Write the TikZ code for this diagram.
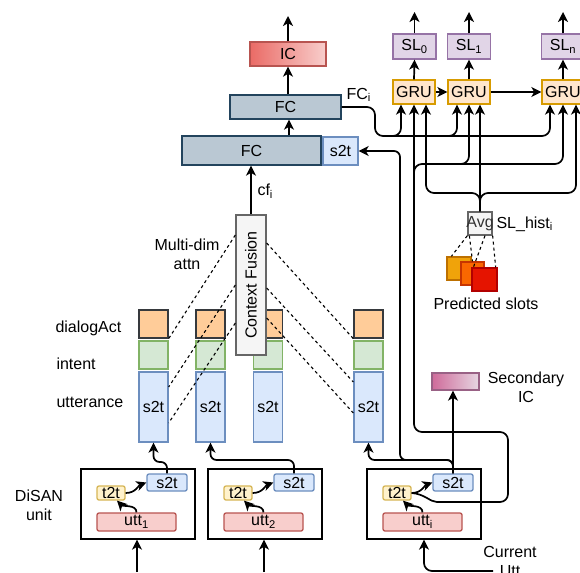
\documentclass[tikz,border=0pt]{standalone}
\usepackage{fontspec}
\setmainfont{Liberation Sans}
\usetikzlibrary{arrows.meta,calc}

\definecolor{fcfill}{HTML}{BAC8D3}
\definecolor{fcdraw}{HTML}{23445D}
\definecolor{icleft}{HTML}{EA6B66}
\definecolor{icright}{HTML}{F8CECC}
\definecolor{icdraw}{HTML}{B85450}
\definecolor{dafill}{HTML}{FFCC99}
\definecolor{dadraw}{HTML}{36393D}
\definecolor{infill}{HTML}{D5E8D4}
\definecolor{indraw}{HTML}{82B366}
\definecolor{bluefill}{HTML}{DAE8FC}
\definecolor{bluedraw}{HTML}{6C8EBF}
\definecolor{greyfill}{HTML}{F5F5F5}
\definecolor{greydraw}{HTML}{666666}
\definecolor{grufill}{HTML}{FFE6CC}
\definecolor{grudraw}{HTML}{D79B00}
\definecolor{slfill}{HTML}{E1D5E7}
\definecolor{sldraw}{HTML}{9673A6}
\definecolor{yfill}{HTML}{FFF2CC}
\definecolor{ydraw}{HTML}{D6B656}
\definecolor{rfill}{HTML}{F8CECC}
\definecolor{rdraw}{HTML}{B85450}
\definecolor{sqAf}{HTML}{F0A30A}
\definecolor{sqAd}{HTML}{BD7000}
\definecolor{sqBf}{HTML}{FA6800}
\definecolor{sqBd}{HTML}{C73500}
\definecolor{sqCf}{HTML}{E51400}
\definecolor{sqCd}{HTML}{B20000}
\definecolor{secleft}{HTML}{CF6B9A}
\definecolor{secright}{HTML}{E6D6E2}
\definecolor{secdraw}{HTML}{996185}
\definecolor{avgtext}{HTML}{333333}

\begin{document}
\begin{tikzpicture}[x=1pt,y=-1pt,
  font=\fontsize{16}{19}\selectfont,
  wh/.style 2 args={minimum width=#1pt,minimum height=#2pt},
  box/.style={draw,line width=1.3pt,inner sep=0pt,anchor=center},
  fcbox/.style={box,fill=fcfill,draw=fcdraw},
  icbox/.style={box,left color=icleft,right color=icright,draw=icdraw},
  dabox/.style={box,fill=dafill,draw=dadraw},
  inbox/.style={box,fill=infill,draw=indraw},
  bluebox/.style={box,fill=bluefill,draw=bluedraw},
  rbluebox/.style={bluebox,rounded corners=2pt},
  greybox/.style={box,fill=greyfill,draw=greydraw},
  grubox/.style={box,fill=grufill,draw=grudraw},
  slbox/.style={box,fill=slfill,draw=sldraw},
  t2tbox/.style={box,fill=yfill,draw=ydraw,rounded corners=2pt},
  uttbox/.style={box,fill=rfill,draw=rdraw,rounded corners=2pt},
  unitbox/.style={box,fill=white,draw=black},
  secbox/.style={box,left color=secleft,right color=secright,draw=secdraw},
  arr/.style={-{Stealth[length=10pt,width=10pt,inset=2.8pt]},line width=1.7pt,rounded corners=8pt},
  wire/.style={line width=1.7pt,rounded corners=8pt},
  attn/.style={dash pattern=on 3pt off 3pt,line width=1.1pt},
]
\useasboundingbox (0,0) rectangle (580,572);

% ---- intent classification head ----
\node[fcbox,wh={139}{29}] (FCb) at (251.5,150.5) {FC};
\node[fcbox,wh={111}{24}] (FCt) at (285.5,107) {FC};
\node[icbox,wh={76}{24}] (IC) at (288,54) {IC};
\node[bluebox,wh={35}{28}] (s2tFC) at (340.5,151) {s2t};
\coordinate (ICout) at (288,16);
\coordinate (fcx) at (289,0);

% ---- context columns ----
\foreach \n/\x in {1/153.5,2/210.5,3/268,4/368.5}{
  \node[dabox,wh={29}{28}] (d\n) at (\x,324) {};
  \node[inbox,wh={29}{28}] (i\n) at (\x,355) {};
  \node[bluebox,wh={29}{70}] (u\n) at (\x,407) {s2t};
}
\node[anchor=west] (lblDA) at (52,328) {dialogAct};
\node[anchor=west] (lblIN) at (53,364) {intent};
\node[anchor=west] (lblUT) at (53,402) {utterance};

% ---- context fusion ----
\node[greybox,wh={30}{140}] (CF) at (251,285) {};
\node[rotate=90] (CFtxt) at (CF.center) {Context Fusion};
\node[align=center] (mda) at (187,254) {Multi-dim\\attn};
\node[anchor=west] (cflbl) at (254,191) {cf\textsubscript{i}};

% ---- slot labelling GRUs ----
\node[grubox,wh={42}{24}] (g1) at (414,92) {GRU};
\node[grubox,wh={42}{24}] (g2) at (469,92) {GRU};
\node[grubox,wh={42}{24}] (gn) at (563,92) {GRU};
\node[slbox,wh={43}{25}] (sl0) at (414.5,46.5) {SL\textsubscript{0}};
\node[slbox,wh={43}{25}] (sl1) at (469,46.5) {SL\textsubscript{1}};
\node[slbox,wh={43}{25}] (sln) at (563,46.5) {SL\textsubscript{n}};
\coordinate (sl0out) at (414.5,12);
\coordinate (sl1out) at (469,12);
\coordinate (slnout) at (563,12);
\coordinate (g1a) at ($(g1.south)+(-13,0)$);
\coordinate (g1b) at (g1.south);
\coordinate (g1c) at ($(g1.south)+(12,0)$);
\coordinate (g2a) at ($(g2.south)+(-12,0)$);
\coordinate (g2b) at (g2.south);
\coordinate (g2c) at ($(g2.south)+(11,0)$);
\coordinate (gna) at ($(gn.south)+(-13,0)$);
\coordinate (gnb) at (gn.south);
\coordinate (gnc) at ($(gn.south)+(13,0)$);
\node[anchor=west] (fcilbl) at (343,95) {FC\textsubscript{i}};

% ---- slot history ----
\node[greybox,wh={24}{23},label={[text=avgtext]center:Avg}] (avg) at (480,223.5) {};
\node[anchor=west] (slhist) at (493,224) {SL\_hist\textsubscript{i}};
\node[box,fill=sqAf,draw=sqAd,wh={24}{23}] (sq1) at (459,268.5) {};
\node[box,fill=sqBf,draw=sqBd,wh={23}{23}] (sq2) at (472.5,273.5) {};
\node[box,fill=sqCf,draw=sqCd,wh={25}{23}] (sq3) at (484.5,279.5) {};
\node (pred) at (486,304) {Predicted slots};

% ---- secondary intent ----
\node[secbox,wh={47}{17}] (sic) at (455.5,381.5) {};
\node[align=center] (siclbl) at (526,387) {Secondary\\IC};

% ---- DiSAN units ----
\foreach \n/\dx/\s in {1/0/1,2/127/2,3/286/i}{
  \node[unitbox,wh={114}{70}] (unit\n) at ({138+\dx},504) {};
  \node[t2tbox,wh={28}{14}] (t2t\n) at ({111+\dx},493) {t2t};
  \node[rbluebox,wh={40}{17}] (s2ts\n) at ({167+\dx},482.5) {s2t};
  \node[uttbox,wh={79}{18}] (utt\n) at ({136.5+\dx},522) {utt\textsubscript{\s}};
  \draw[arr] (utt\n.north) .. controls +(0,-8) and +(6,6) .. ($(t2t\n.south)+(6,0)$);
  \draw[arr] (t2t\n.east) .. controls +(10,0) and +(-8,3) .. (s2ts\n.west);
}
\node[align=center] (disan) at (39,505) {DiSAN\\unit};
\node[align=center] (curlbl) at (510,561) {Current\\Utt};
\coordinate (in1) at (137,572);
\coordinate (in2) at (264,572);
\coordinate (in3) at (493,571);

% ---- inputs ----
\draw[arr] (in1) -- (in1 |- unit1.south);
\draw[arr] (in2) -- (in2 |- unit2.south);
\draw[arr] (in3) -| (unit3.south);

% ---- sentence encodings into the columns ----
\draw[arr,rounded corners=6pt] (s2ts1.north) -- (167,462) -- (153.5,462) -- (u1.south);
\draw[arr,rounded corners=6pt] (s2ts2.north) -- (294,460) -- (210.5,460) -- (u2.south);
\draw[arr,rounded corners=6pt] (s2ts3.north) -- (453,460) -- (368.5,460) -- (u4.south);
\draw[arr,rounded corners=6pt] (s2ts3.north) -- (453,460) -- (400,460) -- (400,151) -- (s2tFC.east);
\draw[arr] (s2ts3.north) -- (s2ts3.north |- sic.south);

% ---- word encodings into the GRUs ----
\draw[wire] (t2t3.east) .. controls (425,494) and (430,502) .. (445,502) -- (508,502) -- (508,432) -- (414,432) -- (414,300);
\draw[arr] (414,320) -- (g1b);
\draw[arr] (414,180) -- (414,164) -| (gnb);
\draw[arr] (450,164) -| (g2b);

% ---- FC_i into the GRUs ----
\draw[arr] (FCt.east) -- (375,107) -- (375,136) -| (gna);
\draw[arr] (385,136) -| (g1a);
\draw[arr] (440,136) -| (g2a);

% ---- slot history into the GRUs ----
\draw[arr] (avg.north) -- (480,193) -| (g1c);
\draw[arr] (avg.north) -- (g2c);
\draw[arr] (avg.north) -- (480,193) -| (gnc);

% ---- GRU chain and outputs ----
\draw[arr] (g1.east) -- (g2.west);
\draw[arr] (g2.east) -- (gn.west);
\draw[arr] (g1.north) -- (sl0.south);
\draw[arr] (g2.north) -- (sl1.south);
\draw[arr] (gn.north) -- (sln.south);
\draw[arr] (sl0.north) -- (sl0out);
\draw[arr] (sl1.north) -- (sl1out);
\draw[arr] (sln.north) -- (slnout);

% ---- intent head arrows ----
\draw[arr] (CF.north) -- (CF.north |- FCb.south);
\draw[arr] (fcx |- FCb.north) -- (fcx |- FCt.south);
\draw[arr] (IC.south |- FCt.north) -- (IC.south);
\draw[arr] (IC.north) -- (ICout);

% ---- multi-dimensional attention ----
\draw[attn] (CF.west |- 0,235) -- (d1.south east);
\draw[attn] (CF.west |- 0,285) -- (u1.east |- 0,387);
\draw[attn] (CF.west |- 0,323) -- (u1.east |- 0,423);
\draw[attn] (CF.east |- 0,243) -- (d4.south west);
\draw[attn] (CF.east |- 0,288) -- (u4.west |- 0,382);
\draw[attn] (CF.east |- 0,318) -- (u4.west |- 0,413);

% ---- averaging of predicted slots ----
\draw[attn] (avg.south west) -- ($(sq1.north west)+(5,0)$);
\draw[attn] ($(avg.south west)+(2,0)$) -- (sq2.north);
\draw[attn] ($(avg.south)+(5,0)$) -- ($(sq3.north west)+(2,0)$);
\draw[attn] (avg.south east) -- ($(sq3.north east)+(-2,0)$);
\end{tikzpicture}
\end{document}
